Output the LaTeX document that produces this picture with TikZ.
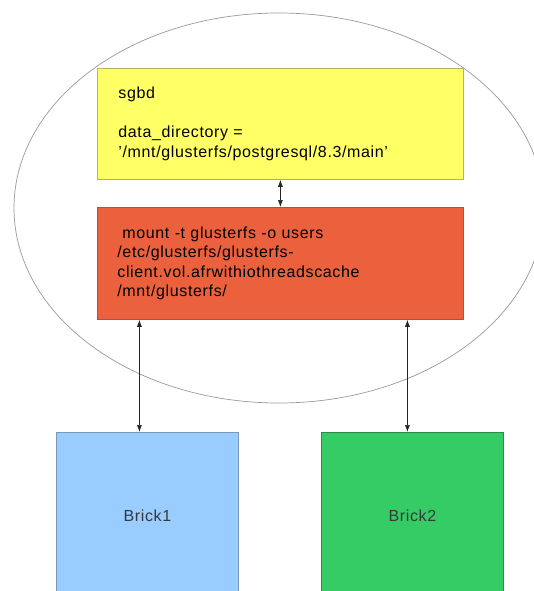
\documentclass[tikz,border=0pt]{standalone}
\usepackage{fontspec}
\setmainfont{Liberation Sans}[LetterSpace=4]
\usetikzlibrary{shapes.geometric,arrows.meta}
\definecolor{yfill}{HTML}{FFFF66}
\definecolor{yline}{HTML}{B4B45A}
\definecolor{rfill}{HTML}{EB613D}
\definecolor{rline}{HTML}{9A5A48}
\definecolor{bfill}{HTML}{99CCFF}
\definecolor{bline}{HTML}{7A98B8}
\definecolor{gfill}{HTML}{35CC66}
\definecolor{gline}{HTML}{2C8A4C}
\begin{document}
\begin{tikzpicture}[x=1pt,y=-1pt,
  font=\fontsize{16}{19.5}\selectfont,
  box/.style={draw, line width=0.8pt, rectangle, anchor=north west, inner sep=0pt},
  brick/.style={box, minimum width=182pt, minimum height=166pt, text=black!78},
  conn/.style={draw=black!85, line width=0.6pt, {Latex[length=7pt,width=5pt]}-{Latex[length=7pt,width=5pt]}}]
\useasboundingbox (0,0) rectangle (534,591);
\clip (0,0) rectangle (534,591);
\fill[white] (0,0) rectangle (534,591);
\node[ellipse, draw=black!40, line width=0.7pt, minimum width=530pt, minimum height=390pt, inner sep=0pt] (host) at (279,208) {};
\node[box, fill=yfill, draw=yline, minimum width=366pt, minimum height=111pt, text width=324pt, inner xsep=21pt, align=left] (sgbd) at (97,68)
  {sgbd\\[19.5pt]data\_directory =\\'/mnt/glusterfs/postgresql/8.3/main'};
\node[box, fill=rfill, draw=rline, minimum width=366pt, minimum height=112pt, text width=326pt, inner xsep=20pt, align=left] (mount) at (97,207)
  {\hspace{5pt}mount -t glusterfs -o users\\/etc/glusterfs/glusterfs-\\client.vol.afrwithiothreadscache\\/mnt/glusterfs/};
\node[brick, fill=bfill, draw=bline] (brick1) at (56,432) {Brick1};
\node[brick, fill=gfill, draw=gline] (brick2) at (321,432) {Brick2};
\draw[conn] (sgbd.south) -- (mount.north);
\draw[conn] ([xshift=-8pt]brick1.north |- mount.south) -- ([xshift=-8pt]brick1.north);
\draw[conn] ([xshift=-5pt]brick2.north |- mount.south) -- ([xshift=-5pt]brick2.north);
\end{tikzpicture}
\end{document}
